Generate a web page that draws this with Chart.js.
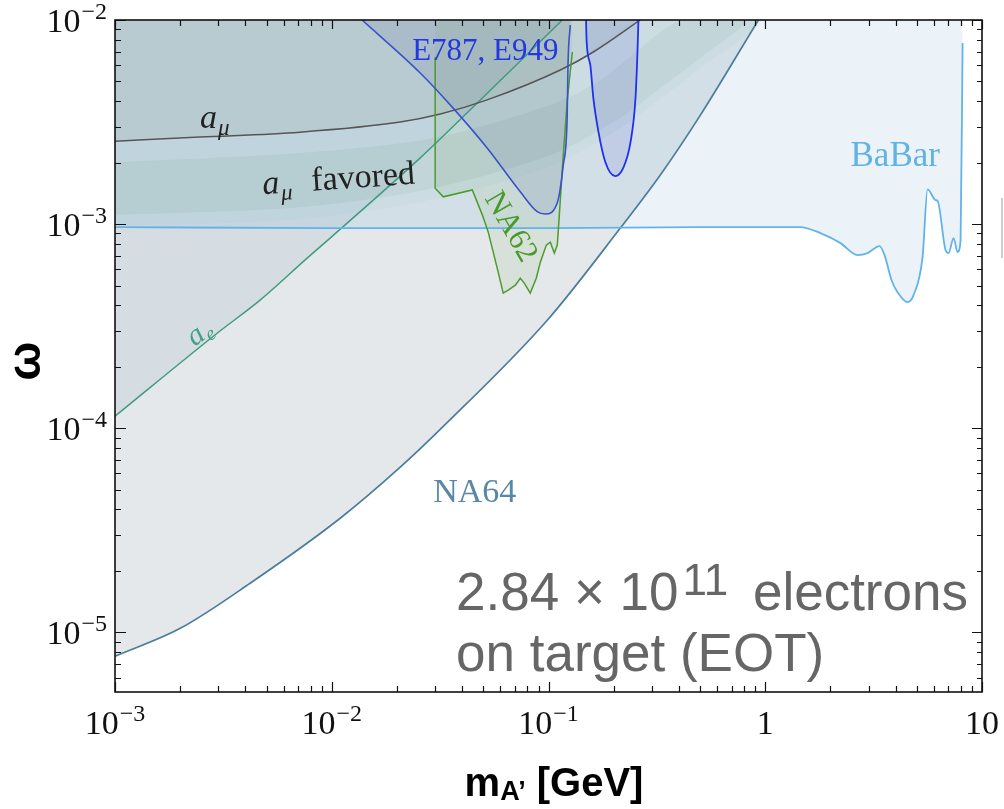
<!DOCTYPE html>
<html><head><meta charset="utf-8">
<script src="https://cdn.jsdelivr.net/npm/chart.js@4.4.0/dist/chart.umd.min.js"></script>
<style>html,body{margin:0;padding:0;background:#fff;overflow:hidden}#wrap{width:1004px;height:809px;position:relative}</style>
</head><body><div id="wrap"><canvas id="c" width="1004" height="809"></canvas></div>
<script>
// ---------- data (mass in GeV, epsilon) ----------
const na64Mass = [0.001,0.002,0.0042,0.01094,0.0207,0.0327,0.0987,0.2145,0.328,0.502,0.930];
const na64Eps  = [7.63e-6,1.046e-5,1.739e-5,3.62e-5,6.44e-5,1.02e-4,3.38e-4,9.56e-4,1.74e-3,3.42e-3,1.0e-2];

const aeMass = [0.001,0.00296,0.00467,0.0077,0.00983,0.0256,0.0469,0.1158];
const aeEps  = [1.145e-4,2.92e-4,4.24e-4,6.81e-4,8.54e-4,2.11e-3,3.92e-3,1.0e-2];

const amuMass = [0.001,0.00247,0.00715,0.0207,0.0317,0.0521,0.1134,0.161,0.265];
const amuEps  = [2.55e-3,2.67e-3,2.82e-3,3.16e-3,3.46e-3,4.06e-3,5.69e-3,6.97e-3,1.0e-2];

// a_mu favored band: outer (2 sigma) and inner (1 sigma) edges
const outerUpperMass = [0.001,0.00715,0.0317,0.1134,0.265];
const outerUpperEps  = [2.50e-3,2.76e-3,3.40e-3,5.60e-3,1.0e-2];
const outerLowerMass = [0.001,0.00715,0.0294,0.1019,0.2145,0.328,0.502,0.950];
const outerLowerEps  = [9.8e-4,1.06e-3,1.32e-3,1.92e-3,2.95e-3,4.10e-3,5.80e-3,1.0e-2];
const innerUpperMass = [0.001,0.00715,0.0294,0.1019,0.1734,0.41];
const innerUpperEps  = [2.01e-3,2.23e-3,2.64e-3,3.83e-3,5.08e-3,1.0e-2];
const innerLowerMass = [0.001,0.00715,0.0294,0.1019,0.2145,0.328,0.502,0.810];
const innerLowerEps  = [1.11e-3,1.21e-3,1.50e-3,2.18e-3,3.31e-3,4.64e-3,6.52e-3,1.0e-2];

const babarMass = [0.001,0.0098,0.1019,0.502,1.454,1.798,2.224,2.666,2.963,3.367,3.551,3.825,4.077,4.535,4.833,5.318,5.609,6.107,6.237,6.790,7.011,7.393,7.716,7.966,8.137];
const babarEps  = [9.67e-4,9.56e-4,9.56e-4,9.67e-4,9.67e-4,9.03e-4,8.07e-4,7.05e-4,7.21e-4,7.80e-4,7.05e-4,5.31e-4,4.64e-4,4.15e-4,4.49e-4,6.89e-4,1.48e-3,1.31e-3,1.30e-3,7.46e-4,7.21e-4,8.54e-4,7.29e-4,8.35e-4,7.71e-3];

const e787aMass = [0.0138,0.0256,0.0363,0.0521,0.0741,0.0887,0.0966,0.110,0.117,0.122,0.123,0.126];
const e787aEps  = [1.0e-2,5.5e-3,3.7e-3,2.36e-3,1.44e-3,1.15e-3,1.12e-3,1.28e-3,1.95e-3,3.42e-3,6.0e-3,9.45e-3];

const e787bMass = [0.149,0.150,0.156,0.161,0.170,0.183,0.203,0.221,0.239,0.252,0.257,0.260];
const e787bEps  = [1.0e-2,7.8e-3,6.0e-3,4.15e-3,2.83e-3,2.01e-3,1.72e-3,1.88e-3,2.52e-3,4.15e-3,6.7e-3,1.0e-2];

const na62Mass = [0.0300,0.0300,0.0327,0.0445,0.0495,0.0527,0.0550,0.0586,0.0618,0.0652,0.0703,0.0741,0.0773,0.0824,0.0878,0.0917,0.0977,0.1019,0.1064,0.1098,0.1122,0.1170,0.1221,0.1288];
const na62Eps  = [6.59e-3,1.50e-3,1.36e-3,1.47e-3,1.11e-3,9.14e-4,7.63e-4,5.82e-4,4.59e-4,4.75e-4,5.02e-4,5.43e-4,5.14e-4,4.59e-4,5.43e-4,6.51e-4,7.89e-4,8.16e-4,7.21e-4,7.89e-4,1.11e-3,2.18e-3,4.06e-3,6.97e-3];

// axis ticks
const xTickValues = [1e-3,1e-2,1e-1,1,10];
const xTickLabels = [['10','−3'],['10','−2'],['10','−1'],['1',''],['10','']];
const yTickValues = [1e-5,1e-4,1e-3,1e-2];
const yTickLabels = [['10','−5'],['10','−4'],['10','−3'],['10','−2']];

// ---------- helpers ----------
const pts = (xs, ys) => xs.map((x, i) => ({x, y: ys[i]}));
const ring = (ux, uy, lx, ly) => pts(ux, uy).concat(pts(lx, ly).reverse());

const SERIF = '"Liberation Serif", "Times New Roman", serif';
const SANS = '"Liberation Sans", Arial, sans-serif';

// text labels (anchor in data coordinates)
const textLabels = [
  {text:'E787, E949', x:0.0235, y:6.37e-3, color:'#2438e0', font:'31px '+SERIF, align:'left', rot:0},
  {text:'NA64', x:0.0294, y:4.34e-5, color:'#5a87a6', font:'34px '+SERIF, align:'left', rot:0},
  {text:'BaBar', x:2.474, y:1.92e-3, color:'#62b2e2', font:'35px '+SERIF, align:'left', rot:0},
  {text:'NA62', x:0.0666, y:9.67e-4, color:'#4a9a2a', font:'31px '+SERIF, align:'center', base:'middle', rot:60}
];

function drawSup(ctx, base, exp, x, y, align, bigFont, smallFont, rise) {
  ctx.font = bigFont;
  const wb = ctx.measureText(base).width;
  ctx.font = smallFont;
  const we = exp ? ctx.measureText(exp).width + 1 : 0;
  const w = wb + we;
  let x0 = x;
  if (align === 'center') x0 = x - w / 2;
  else if (align === 'right') x0 = x - w;
  ctx.textAlign = 'left';
  ctx.textBaseline = 'alphabetic';
  ctx.font = bigFont;
  ctx.fillText(base, x0, y);
  if (exp) { ctx.font = smallFont; ctx.fillText(exp, x0 + wb + 1, y - rise); }
}

const decor = {
  id: 'decor',
  afterDatasetsDraw(chart) {
    const ctx = chart.ctx, xs = chart.scales.x, ys = chart.scales.y;
    ctx.save();
    textLabels.forEach(l => {
      const px = xs.getPixelForValue(l.x), py = ys.getPixelForValue(l.y);
      ctx.save();
      ctx.translate(px, py);
      ctx.rotate(l.rot * Math.PI / 180);
      ctx.fillStyle = l.color; ctx.font = l.font;
      ctx.textAlign = l.align; ctx.textBaseline = l.base || 'alphabetic';
      ctx.fillText(l.text, 0, 0);
      ctx.restore();
    });
    // a_mu label
    ctx.fillStyle = '#222';
    let px = xs.getPixelForValue(0.00247), py = ys.getPixelForValue(2.96e-3);
    ctx.font = 'italic 34px ' + SERIF; ctx.textAlign = 'left'; ctx.textBaseline = 'alphabetic';
    ctx.fillText('a', px, py);
    ctx.font = 'italic 23px ' + SERIF; ctx.fillText('μ', px + 18, py + 7);
    // a_mu favored
    px = xs.getPixelForValue(0.00482); py = ys.getPixelForValue(1.40e-3);
    ctx.save(); ctx.translate(px, py); ctx.rotate(-4 * Math.PI / 180);
    ctx.font = 'italic 34px ' + SERIF; ctx.fillText('a', 0, 0);
    ctx.font = 'italic 23px ' + SERIF; ctx.fillText('μ', 18, 7);
    ctx.font = '34px ' + SERIF; ctx.fillText('favored', 49, 0);
    ctx.restore();
    // a_e label
    px = xs.getPixelForValue(0.00255); py = ys.getPixelForValue(2.92e-4);
    ctx.save(); ctx.translate(px, py); ctx.rotate(-37 * Math.PI / 180);
    ctx.fillStyle = '#45a088';
    ctx.font = 'italic 30px ' + SERIF; ctx.textBaseline = 'alphabetic'; ctx.fillText('a', -15, 6);
    ctx.font = 'italic 20px ' + SERIF; ctx.fillText('e', 1, 11);
    ctx.restore();
    ctx.restore();
  },
  afterDraw(chart) {
    const ctx = chart.ctx, a = chart.chartArea, xs = chart.scales.x, ys = chart.scales.y;
    ctx.save();
    // frame
    ctx.strokeStyle = '#111'; ctx.lineWidth = 1.6;
    ctx.strokeRect(a.left, a.top, a.right - a.left, a.bottom - a.top);
    ctx.lineWidth = 1.2;
    for (let e = -3; e <= 1; e++) {
      for (let k = 1; k <= 9; k++) {
        const v = k * Math.pow(10, e);
        if (v < 1e-3 * 0.999 || v > 10 * 1.001) continue;
        const p = Math.round(xs.getPixelForValue(v)) + 0.5;
        const lb = k === 1 ? 10 : 6, lt = k === 1 ? 9 : 6;
        ctx.beginPath();
        ctx.moveTo(p, a.bottom); ctx.lineTo(p, a.bottom - lb);
        ctx.moveTo(p, a.top); ctx.lineTo(p, a.top + lt);
        ctx.stroke();
      }
    }
    for (let e = -6; e <= -2; e++) {
      for (let k = 1; k <= 9; k++) {
        const v = k * Math.pow(10, e);
        if (v < ys.min * 0.999 || v > 1e-2 * 1.001) continue;
        const p = Math.round(ys.getPixelForValue(v)) + 0.5;
        const ll = k === 1 ? 11 : 6, lr = k === 1 ? 10 : 5;
        ctx.beginPath();
        ctx.moveTo(a.left, p); ctx.lineTo(a.left + ll, p);
        ctx.moveTo(a.right, p); ctx.lineTo(a.right - lr, p);
        ctx.stroke();
      }
    }
    // tick labels
    ctx.fillStyle = '#111';
    const big = '34px ' + SERIF, small = '24px ' + SERIF;
    xTickValues.forEach((v, i) => {
      const p = xs.getPixelForValue(v);
      drawSup(ctx, xTickLabels[i][0], xTickLabels[i][1], p, a.bottom + 42, 'center', big, small, 13);
    });
    yTickValues.forEach((v, i) => {
      const p = ys.getPixelForValue(v);
      drawSup(ctx, yTickLabels[i][0], yTickLabels[i][1], a.left - 8, p + 12, 'right', big, small, 13);
    });
    // axis titles
    ctx.save();
    ctx.translate(27, 361); ctx.rotate(-Math.PI / 2);
    ctx.font = 'bold 46px ' + SANS; ctx.textAlign = 'center'; ctx.textBaseline = 'middle';
    ctx.fillStyle = '#000';
    ctx.fillText('ω', 0, 0);
    ctx.restore();
    ctx.fillStyle = '#000';
    const f1 = 'bold 40px ' + SANS, f2 = 'bold 27px ' + SANS;
    ctx.font = f1; const w1 = ctx.measureText('m').width, w3 = ctx.measureText(' [GeV]').width;
    ctx.font = f2; const w2 = ctx.measureText('A’').width;
    let x0 = 554 - (w1 + w2 + w3) / 2; const by = 796;
    ctx.textAlign = 'left'; ctx.textBaseline = 'alphabetic';
    ctx.font = f1; ctx.fillText('m', x0, by);
    ctx.font = f2; ctx.fillText('A’', x0 + w1, by + 4);
    ctx.font = f1; ctx.fillText(' [GeV]', x0 + w1 + w2, by);
    // annotation
    ctx.fillStyle = '#666';
    const fa = '53px ' + SANS, fs = '44px ' + SANS;
    ctx.font = fa; let t = '2.84 × 10'; ctx.fillText(t, 456, 610);
    let wx = 456 + ctx.measureText(t).width;
    ctx.font = fs; ctx.fillText('11', wx + 4, 595); wx += ctx.measureText('11').width + 6;
    ctx.font = fa; ctx.fillText(' electrons', wx + 8, 610);
    ctx.fillText('on target (EOT)', 456, 671);
    // edge remnant on the right
    ctx.strokeStyle = '#cfcfcf'; ctx.lineWidth = 2;
    ctx.beginPath(); ctx.moveTo(1002, 198); ctx.lineTo(1002, 258); ctx.stroke();
    ctx.restore();
  }
};

const ds = (label, data, border, bg, width, mode, order, fill) => ({
  label, data, borderColor: border, backgroundColor: bg, borderWidth: width,
  cubicInterpolationMode: mode === 'mono' ? 'monotone' : 'default',
  tension: mode === 'mono' ? 0.4 : (mode || 0),
  order, fill, pointRadius: 0, showLine: true
});

new Chart(document.getElementById('c').getContext('2d'), {
  type: 'line',
  data: {
    datasets: [
      ds('E787 b', pts(e787bMass, e787bEps), '#1f30f0', 'rgba(70,80,220,0.13)', 1.8, 'mono', 1, 'end'),
      ds('E787 a', pts(e787aMass, e787aEps), '#3c50c8', 'rgba(50,60,150,0.10)', 1.6, 'mono', 2, 'end'),
      ds('NA62', pts(na62Mass, na62Eps), '#4c9c2c', 'rgba(90,150,60,0.09)', 1.5, 0, 3, 'end'),
      ds('a_mu', pts(amuMass, amuEps), '#555555', 'rgba(80,130,95,0.12)', 1.5, 'mono', 4, 'end'),
      ds('a_mu favored 1σ', ring(innerUpperMass, innerUpperEps, innerLowerMass, innerLowerEps), 'rgba(0,0,0,0)', 'rgba(100,130,110,0.09)', 0, 0.3, 5, 'shape'),
      ds('a_mu favored 2σ', ring(outerUpperMass, outerUpperEps, outerLowerMass, outerLowerEps), 'rgba(0,0,0,0)', 'rgba(100,200,190,0.07)', 0, 0.3, 6, 'shape'),
      ds('BaBar', pts(babarMass, babarEps), '#62b4e8', 'rgba(60,140,200,0.10)', 1.8, 'mono', 7, 'end'),
      ds('a_e', pts(aeMass, aeEps), '#3f9c82', 'rgba(130,160,180,0.15)', 1.5, 'mono', 8, 'end'),
      ds('NA64', pts(na64Mass, na64Eps), '#4d7d99', 'rgba(120,140,150,0.20)', 1.7, 'mono', 9, 'end')
    ]
  },
  options: {
    responsive: false,
    animation: false,
    layout: {padding: {left: 115, top: 20, right: 22, bottom: 117}},
    plugins: {legend: {display: false}, tooltip: {enabled: false}, filler: {drawTime: 'beforeDatasetsDraw'}},
    scales: {
      x: {type: 'logarithmic', min: 1e-3, max: 10, display: false},
      y: {type: 'logarithmic', min: 5.1e-6, max: 1e-2, display: false}
    }
  },
  plugins: [decor]
});
</script>
</body></html>
